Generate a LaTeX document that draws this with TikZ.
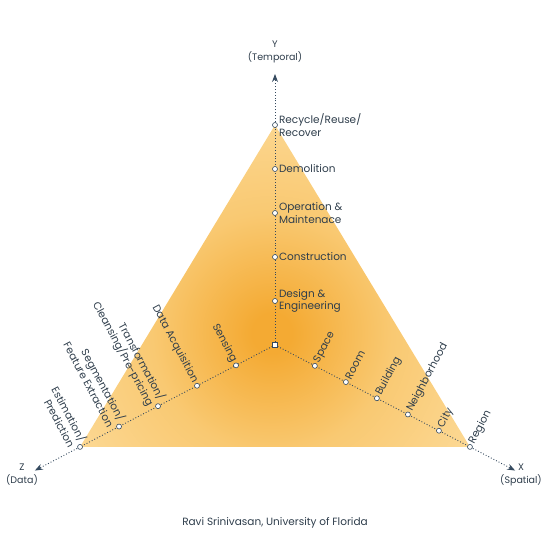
\documentclass[tikz,border=0pt]{standalone}
\usepackage{fontspec}
\setmainfont{Poppins}
\usetikzlibrary{arrows.meta}

\definecolor{inkslate}{HTML}{34495E}
\definecolor{textslate}{HTML}{2E3D4B}
\definecolor{glowcore}{HTML}{F4AA33}
\definecolor{glowmid}{HTML}{F9C972}
\definecolor{glowrim}{HTML}{FDDD9E}

\pgfdeclareradialshading{triglow}{\pgfpoint{0bp}{0bp}}{color(0bp)=(glowcore); color(2bp)=(glowcore); color(12bp)=(glowmid); color(26bp)=(glowrim); color(50bp)=(glowrim)}

\tikzset{
	axisdot/.style={circle, draw=inkslate, fill=white, line width=0.6pt, inner sep=0pt, minimum size=5pt},
	axisbox/.style={rectangle, draw=inkslate, fill=white, line width=0.6pt, inner sep=0pt, minimum size=5pt},
	axisline/.style={dotted, line width=0.9pt, draw=inkslate, -{Stealth[length=8pt,width=6pt]}},
	lbl/.style={text=textslate, font=\fontsize{10.5}{12.5}\selectfont, inner sep=4pt},
	axisname/.style={lbl, font=\fontsize{9.5}{13}\selectfont, align=center},
}

\begin{document}
\begin{tikzpicture}[x=1pt,y=1pt]
			\useasboundingbox (-275,-206) rectangle (276,345);

			\coordinate (o) at (0,0);
			\coordinate (ytop) at (90:220);
			\coordinate (xtop) at (-27.6:220);
			\coordinate (ztop) at (207.6:220);
			\coordinate (yend) at (90:271);
			\coordinate (xend) at (-27.6:271);
			\coordinate (zend) at (207.6:271);

			% glowing triangle
			\begin{scope}
				\clip (ytop) -- (xtop) -- (ztop) -- cycle;
				\shade[shading=triglow] (-3,12) circle (250pt);
			\end{scope}

			\draw[axisline] (o) -- (yend);
			\draw[axisline] (o) -- (xend);
			\draw[axisline] (o) -- (zend);

			\node[axisbox] (origin) at (o) {};

			% Y (temporal)
			\node[axisdot] (design) at (90:44) {};
			\node[axisdot] (construction) at (90:88) {};
			\node[axisdot] (operation) at (90:132) {};
			\node[axisdot] (demolition) at (90:176) {};
			\node[axisdot] (recycle) at (90:220) {};

			\node[lbl, anchor=west, align=left, inner sep=1pt] at (design.east) {Design \&\\Engineering};
			\node[lbl, anchor=west, inner sep=1pt] at (construction.east) {Construction};
			\node[lbl, anchor=west, align=left, inner sep=1pt] at (operation.east) {Operation \&\\Maintenace};
			\node[lbl, anchor=west, inner sep=1pt] at (demolition.east) {Demolition};
			\node[lbl, anchor=west, align=left, inner sep=1pt] at (recycle.east) {Recycle/Reuse/\\Recover};

			% X (spatial)
			\node[axisdot] (space) at (-27.6:45) {};
			\node[axisdot] (room) at (-27.6:80) {};
			\node[axisdot] (building) at (-27.6:115) {};
			\node[axisdot] (neighborhood) at (-27.6:150) {};
			\node[axisdot] (city) at (-27.6:185) {};
			\node[axisdot] (region) at (-27.6:220) {};

			\node[lbl, rotate=62, anchor=west] at (space) {Space};
			\node[lbl, rotate=62, anchor=west] at (room) {Room};
			\node[lbl, rotate=62, anchor=west] at (building) {Building};
			\node[lbl, rotate=62, anchor=west] at (neighborhood) {Neighborhood};
			\node[lbl, rotate=62, anchor=west] at (city) {City};
			\node[lbl, rotate=62, anchor=west] at (region) {Region};

			% Z (data)
			\node[axisdot] (sensing) at (207.6:44) {};
			\node[axisdot] (acquisition) at (207.6:88) {};
			\node[axisdot] (transformation) at (207.6:132) {};
			\node[axisdot] (segmentation) at (207.6:176) {};
			\node[axisdot] (estimation) at (207.6:220) {};

			\node[lbl, rotate=-62, anchor=east] at (sensing) {Sensing};
			\node[lbl, rotate=-62, anchor=east] at (acquisition) {Data Acquisition};
			\node[lbl, rotate=-62, anchor=east, align=right] at (transformation) {Transformation/\\Cleansing/Pre-pricing};
			\node[lbl, rotate=-62, anchor=east, align=right] at (segmentation) {Segmentation/\\Feature Extraction};
			\node[lbl, rotate=-62, anchor=east, align=right] at (estimation) {Estimation/\\Prediction};

			% axis names
			\node[axisname] (ylbl) at (0,293) {Y\\(Temporal)};
			\node[axisname] (xlbl) at (246,-130) {X\\(Spatial)};
			\node[axisname] (zlbl) at (-253,-130) {Z\\(Data)};

			\node[lbl] (credit) at (0,-178) {Ravi Srinivasan, University of Florida};
	\end{tikzpicture}
\end{document}
